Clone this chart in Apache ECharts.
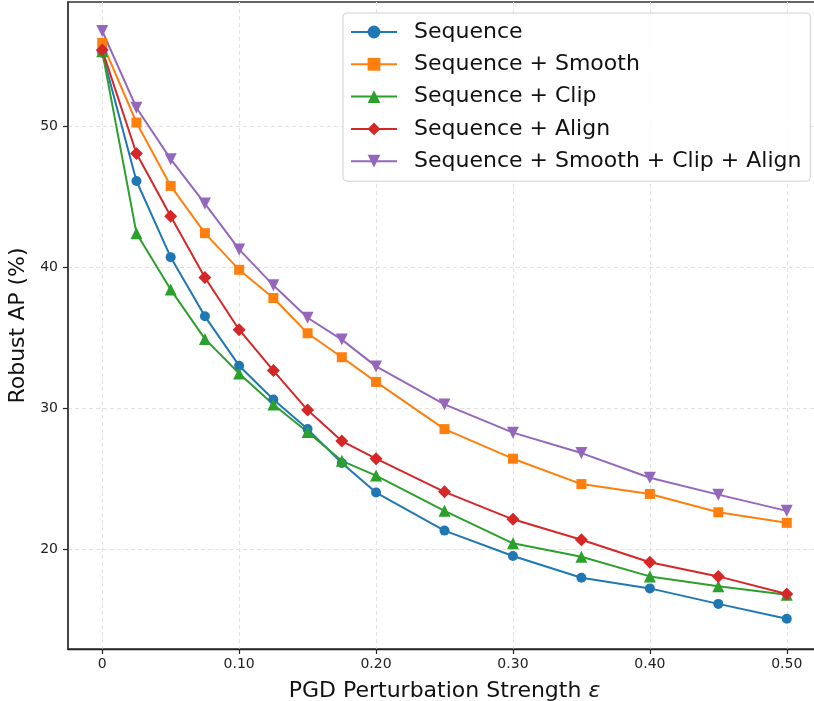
<!DOCTYPE html>
<html>
<head>
<meta charset="utf-8">
<script src="https://cdn.jsdelivr.net/npm/echarts@6/dist/echarts.min.js"></script>
<style>
  html, body { margin: 0; padding: 0; background: #fff; }
  #chart { width: 814px; height: 701px; }
</style>
</head>
<body>
<div id="chart"></div>
<script>
// PGD perturbation strengths (epsilon)
const epsilons = [0, 0.025, 0.05, 0.075, 0.1, 0.125, 0.15, 0.175, 0.2, 0.25, 0.3, 0.35, 0.4, 0.45, 0.5];

// Robust AP (%) per configuration
const seqOnly   = [55.2, 46.1, 40.7, 36.5, 33.0, 30.6, 28.5, 26.1, 24.0, 21.3, 19.5, 17.95, 17.2, 16.1, 15.05];
const seqSmooth = [55.9, 50.25, 45.75, 42.4, 39.8, 37.8, 35.3, 33.6, 31.85, 28.5, 26.4, 24.6, 23.9, 22.6, 21.85];
const seqClip   = [55.3, 42.4, 38.4, 34.9, 32.45, 30.25, 28.3, 26.25, 25.2, 22.7, 20.4, 19.45, 18.05, 17.35, 16.75];
const seqAlign  = [55.4, 48.05, 43.6, 39.25, 35.55, 32.65, 29.85, 27.65, 26.4, 24.05, 22.1, 20.65, 19.05, 18.05, 16.8];
const seqAll    = [56.75, 51.3, 47.65, 44.5, 41.25, 38.7, 36.4, 34.85, 32.95, 30.25, 28.25, 26.8, 25.05, 23.85, 22.7];

const seriesNames = [
  'Sequence',
  'Sequence + Smooth',
  'Sequence + Clip',
  'Sequence + Align',
  'Sequence + Smooth + Clip + Align'
];

// Tick positions
const xTicks = [0, 0.1, 0.2, 0.3, 0.4, 0.5];
const yTicks = [20, 30, 40, 50];

const colors = ['#1f77b4', '#ff7f0e', '#2ca02c', '#d62728', '#9467bd'];
const symbols = ['circle', 'rect', 'triangle', 'diamond', 'triangle'];
const symbolSizes = [10, 10, 12, 13, 12];
const symbolRotates = [0, 0, 0, 0, 180];
const allValues = [seqOnly, seqSmooth, seqClip, seqAlign, seqAll];

const FONT = 'DejaVu Sans';

const series = allValues.map((vals, i) => ({
  name: seriesNames[i],
  type: 'line',
  data: epsilons.map((e, j) => [e, vals[j]]),
  symbol: symbols[i],
  symbolSize: symbolSizes[i],
  symbolRotate: symbolRotates[i],
  showAllSymbol: true,
  lineStyle: { color: colors[i], width: 2 },
  itemStyle: { color: colors[i] },
  emphasis: { disabled: true },
  animation: false
}));

const chart = echarts.init(document.getElementById('chart'), null, { renderer: 'canvas' });

chart.setOption({
  animation: false,
  textStyle: { fontFamily: FONT },
  grid: {
    left: 68, top: 2, width: 753, height: 647,
    show: true, borderColor: '#333', borderWidth: 1.3,
    containLabel: false,
    outerBoundsMode: 'none'
  },
  legend: {
    orient: 'vertical',
    left: 343,
    top: 13,
    padding: [8, 9, 9, 7],
    itemWidth: 46,
    itemHeight: 16,
    itemGap: 10.3,
    backgroundColor: 'rgba(255,255,255,0.85)',
    borderColor: '#d0d0d0',
    borderWidth: 1,
    borderRadius: 4,
    textStyle: {
      fontFamily: FONT, fontSize: 22, lineHeight: 22, color: '#111',
      padding: [0, 0, 0, 12]
    },
    data: seriesNames
  },
  xAxis: {
    type: 'value',
    min: -0.025,
    max: 0.525,
    name: 'PGD Perturbation Strength {e|ε}',
    nameLocation: 'middle',
    nameGap: 31,
    nameTextStyle: {
      fontFamily: FONT, fontSize: 22, color: '#111',
      rich: { e: { fontFamily: FONT, fontSize: 22, fontStyle: 'italic', color: '#111' } }
    },
    axisLine: { show: true, onZero: false, lineStyle: { color: '#222', width: 1.3 } },
    axisTick: { show: true, length: 5, lineStyle: { color: '#222', width: 1.2 }, customValues: xTicks },
    axisLabel: {
      customValues: xTicks,
      margin: 8,
      fontFamily: FONT, fontSize: 14, color: '#222',
      formatter: v => (v === 0 ? '0' : v.toFixed(2))
    },
    splitLine: {
      show: true, customValues: xTicks,
      lineStyle: { color: '#e2e2e2', type: [4, 3], width: 1 }
    }
  },
  yAxis: {
    type: 'value',
    min: 12.9,
    max: 58.8,
    name: 'Robust AP (%)',
    nameLocation: 'middle',
    nameGap: 32,
    nameTextStyle: { fontFamily: FONT, fontSize: 22, color: '#111' },
    axisLine: { show: true, onZero: false, lineStyle: { color: '#333', width: 1.5 } },
    axisTick: { show: true, length: 5, lineStyle: { color: '#222', width: 1.2 }, customValues: yTicks },
    axisLabel: {
      customValues: yTicks,
      margin: 10,
      fontFamily: FONT, fontSize: 14, color: '#222'
    },
    splitLine: {
      show: true, customValues: yTicks,
      lineStyle: { color: '#e2e2e2', type: [4, 3], width: 1 }
    }
  },
  series: series
});
</script>
</body>
</html>
